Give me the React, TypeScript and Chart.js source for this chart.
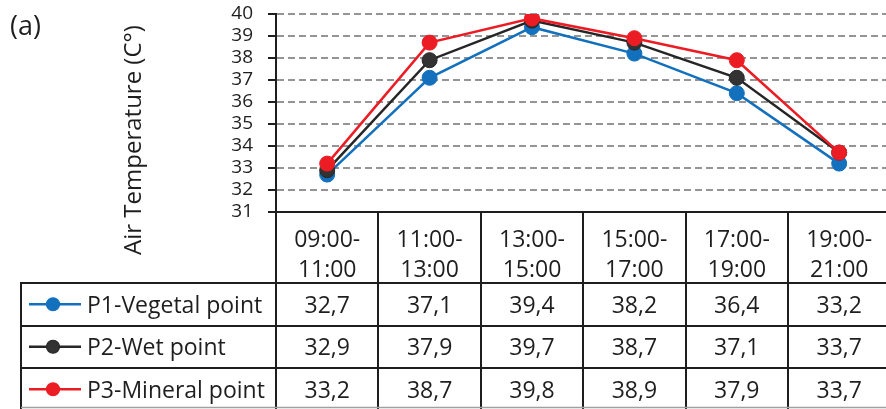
import React, { useEffect, useRef } from "react";
import { Chart, registerables } from "chart.js";

Chart.register(...registerables);

const timeSlots: string[][] = [
  ["09:00-", "11:00"],
  ["11:00-", "13:00"],
  ["13:00-", "15:00"],
  ["15:00-", "17:00"],
  ["17:00-", "19:00"],
  ["19:00-", "21:00"],
];

const vegetal = [32.7, 37.1, 39.4, 38.2, 36.4, 33.2];
const wet = [32.9, 37.9, 39.7, 38.7, 37.1, 33.7];
const mineral = [33.2, 38.7, 39.8, 38.9, 37.9, 33.7];

const seriesNames = ["P1-Vegetal point", "P2-Wet point", "P3-Mineral point"];
const seriesValues = [vegetal, wet, mineral];
const seriesColors = ["#1370bd", "#262626", "#ec1c24"];
const markerFill = ["#1370bd", "#333333", "#ec1c24"];

const yMin = 31;
const yMax = 40;
const yTitle = "Air Temperature (C°)";
const panelLabel = "(a)";

const FONT = "'Open Sans', 'Noto Sans', sans-serif";
const INK = "#1e1e1e";

const fmt = (v: number) => v.toFixed(1).replace(".", ",");

const tablePlugin = {
  id: "dataTable",
  afterDraw(chart: any) {
    const ctx = chart.ctx as CanvasRenderingContext2D;
    const area = chart.chartArea;
    const xs = chart.scales.x;
    const W = chart.width;
    const H = chart.height;
    const colW = xs.getPixelForValue(1) - xs.getPixelForValue(0);
    const headerBottom = area.bottom + 71;
    const rowH = 42.5;
    const legendLeft = 21;

    ctx.save();
    // panel label
    ctx.fillStyle = INK;
    ctx.font = `27px ${FONT}`;
    ctx.textAlign = "left";
    ctx.textBaseline = "alphabetic";
    ctx.fillText(panelLabel, 10, 35);

    // y title
    ctx.save();
    ctx.translate(141, area.top + 126);
    ctx.rotate(-Math.PI / 2);
    ctx.font = `24px ${FONT}`;
    ctx.textAlign = "center";
    ctx.fillText(yTitle, 0, 0);
    ctx.restore();

    // table grid
    ctx.strokeStyle = INK;
    ctx.lineWidth = 2;
    ctx.beginPath();
    for (let r = 0; r < 3; r++) {
      const y = Math.round(headerBottom + r * rowH);
      ctx.moveTo(legendLeft - 1, y);
      ctx.lineTo(W, y);
    }
    ctx.moveTo(legendLeft, headerBottom - 1);
    ctx.lineTo(legendLeft, H);
    ctx.moveTo(area.left, area.bottom);
    ctx.lineTo(area.left, H);
    for (let i = 0; i < timeSlots.length; i++) {
      const x = Math.round(xs.getPixelForValue(i) + colW / 2);
      ctx.moveTo(x, area.bottom);
      ctx.lineTo(x, H);
    }
    ctx.stroke();

    ctx.strokeStyle = "#a0a0a0";
    ctx.lineWidth = 1.5;
    ctx.beginPath();
    ctx.moveTo(legendLeft, H - 1.5);
    ctx.lineTo(W, H - 1.5);
    ctx.stroke();

    // rows
    ctx.font = `23px ${FONT}`;
    for (let s = 0; s < seriesValues.length; s++) {
      const top = headerBottom + s * rowH;
      const cy = top + rowH / 2;
      const base = cy + 8.3;
      // legend key
      ctx.strokeStyle = seriesColors[s];
      ctx.lineWidth = 2.5;
      ctx.beginPath();
      ctx.moveTo(29, cy);
      ctx.lineTo(81, cy);
      ctx.stroke();
      ctx.beginPath();
      ctx.arc(53, cy, 6.5, 0, Math.PI * 2);
      ctx.fillStyle = markerFill[s];
      ctx.fill();
      ctx.lineWidth = 1.2;
      ctx.stroke();
      ctx.fillStyle = INK;
      ctx.textAlign = "left";
      ctx.fillText(seriesNames[s], 87, base);
      ctx.textAlign = "center";
      seriesValues[s].forEach((v, i) => {
        ctx.fillText(fmt(v), xs.getPixelForValue(i), base);
      });
    }
    ctx.restore();
  },
};

export default function App() {
  const ref = useRef<HTMLCanvasElement>(null);
  useEffect(() => {
    document.body.style.margin = "0";
    const canvas = ref.current!;
    const chart = new Chart(canvas, {
      type: "line",
      data: {
        labels: timeSlots,
        datasets: seriesValues.map((vals, s) => ({
          label: seriesNames[s],
          data: vals,
          borderColor: seriesColors[s],
          backgroundColor: markerFill[s],
          pointBackgroundColor: markerFill[s],
          pointBorderColor: seriesColors[s],
          pointBorderWidth: 1,
          borderWidth: 2.5,
          pointRadius: 7.5,
          pointHoverRadius: 7.5,
          tension: 0,
          order: 2 - s,
        })),
      },
      options: {
        animation: false,
        responsive: false,
        devicePixelRatio: 1,
        layout: { padding: { top: 14, right: 9.6, left: 0, bottom: 0 } },
        plugins: {
          legend: { display: false },
          tooltip: { enabled: false },
          title: { display: false },
        },
        scales: {
          x: {
            type: "category",
            offset: true,
            grid: { display: false },
            border: { display: true, color: INK, width: 2 },
            ticks: {
              color: INK,
              padding: 6,
              maxRotation: 0,
              autoSkip: false,
              font: { family: FONT, size: 23, lineHeight: 1.3 },
            },
            afterFit: (scale: any) => {
              scale.height = 197;
              scale.paddingLeft = 0;
              scale.paddingRight = 0;
            },
          },
          y: {
            min: yMin,
            max: yMax,
            ticks: {
              stepSize: 1,
              autoSkip: false,
              color: INK,
              padding: 15,
              font: { family: FONT, size: 19 },
            },
            grid: {
              color: "#959595",
              lineWidth: 2,
              drawTicks: true,
              tickLength: 8,
              tickColor: INK,
              tickWidth: 2,
              tickBorderDash: [],
            } as any,
            border: { display: true, color: INK, width: 2, dash: [7, 4] },
            afterFit: (scale: any) => {
              scale.width = 276;
              scale.paddingTop = 0;
              scale.paddingBottom = 0;
            },
          },
        },
      },
      plugins: [tablePlugin],
    });
    return () => chart.destroy();
  }, []);
  return (
    <div style={{ position: "absolute", left: 0, top: 0, width: 886, height: 409, overflow: "hidden", background: "#fff" }}>
      <canvas ref={ref} width={900} height={409} style={{ display: "block" }} />
    </div>
  );
}
